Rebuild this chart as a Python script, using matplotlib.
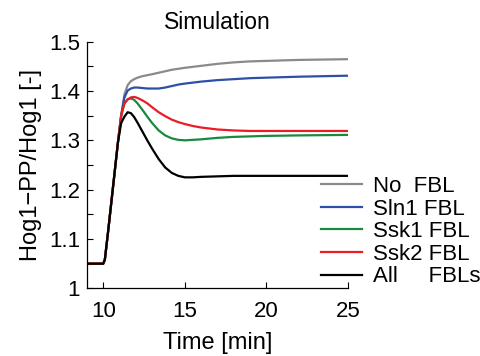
import matplotlib

matplotlib.use("Agg")
import matplotlib.pyplot as plt
from matplotlib.ticker import MultipleLocator

plt.rcParams["font.family"] = ["Liberation Sans", "DejaVu Sans"]

# time points [min]
t = [9.0, 10.0, 10.1, 10.3, 10.5, 10.7, 10.9, 11.1, 11.3, 11.5, 11.7, 11.9, 12.1,
     12.4, 12.7, 13.0, 13.4, 13.8, 14.2, 14.6, 15.0, 15.5, 16.0, 17.0, 18.0,
     19.0, 20.0, 22.0, 25.0]

rise = [1.05, 1.05, 1.058, 1.115, 1.175, 1.235, 1.295, 1.35]

no_fbl = rise + [1.393, 1.412, 1.42, 1.424, 1.427, 1.43, 1.432, 1.434, 1.437, 1.44,
                 1.443, 1.445, 1.447, 1.449, 1.451, 1.455, 1.458, 1.46, 1.461,
                 1.463, 1.4645]
sln1 = rise + [1.387, 1.401, 1.405, 1.407, 1.407, 1.406, 1.405, 1.405, 1.405, 1.407,
               1.41, 1.413, 1.415, 1.417, 1.419, 1.422, 1.424, 1.426, 1.427,
               1.429, 1.431]
ssk1 = rise + [1.375, 1.383, 1.385, 1.382, 1.375, 1.362, 1.348, 1.335, 1.32, 1.31,
               1.304, 1.301, 1.3, 1.301, 1.302, 1.305, 1.307, 1.308, 1.309,
               1.31, 1.311]
ssk2 = rise + [1.375, 1.383, 1.387, 1.388, 1.386, 1.381, 1.375, 1.367, 1.357, 1.349,
               1.342, 1.337, 1.333, 1.329, 1.326, 1.322, 1.32, 1.319, 1.319,
               1.319, 1.319]
all_fbl = rise[:-1] + [1.335, 1.348, 1.357, 1.355, 1.347, 1.336, 1.318, 1.3, 1.283,
                       1.262, 1.245, 1.234, 1.228, 1.225, 1.225, 1.226, 1.227,
                       1.228, 1.228, 1.228, 1.228, 1.228]

series = [
    ("No  FBL", no_fbl, "#8a8a8a"),
    ("Sln1 FBL", sln1, "#2f4fa6"),
    ("Ssk1 FBL", ssk1, "#178a3e"),
    ("Ssk2 FBL", ssk2, "#ec1c24"),
    ("All     FBLs", all_fbl, "#000000"),
]

fig = plt.figure(figsize=(4.8, 3.56), dpi=100)
ax = fig.add_axes([0.181, 0.190, 0.544, 0.693])

for label, y, c in series:
    ax.plot(t, y, color=c, lw=1.6, label=label)

ax.set_xlim(9, 25)
ax.set_ylim(1, 1.5)
ax.set_xticks([10, 15, 20, 25])
ax.set_yticks([1, 1.1, 1.2, 1.3, 1.4, 1.5])
ax.set_yticklabels(["1", "1.1", "1.2", "1.3", "1.4", "1.5"])
ax.yaxis.set_minor_locator(MultipleLocator(0.05))
ax.tick_params(which="both", direction="in", labelsize=16, width=0.8, length=4)
ax.tick_params(axis="y", pad=5)
ax.tick_params(axis="x", pad=9)
for s in ("top", "right"):
    ax.spines[s].set_visible(False)
ax.spines["left"].set_linewidth(0.9)
ax.spines["bottom"].set_linewidth(0.9)

ax.set_xlabel("Time [min]", fontsize=17, labelpad=7)
ax.set_ylabel("Hog1\u2212PP/Hog1 [-]", fontsize=17, labelpad=5)
ax.set_title("Simulation", fontsize=16.5, pad=9)

fig.legend(loc="lower left", bbox_to_anchor=(0.668, 0.193), frameon=False,
           fontsize=16, handlelength=1.85, handletextpad=0.5, labelspacing=0.07,
           borderpad=0, borderaxespad=0)

fig.savefig("out.png", dpi=100)
